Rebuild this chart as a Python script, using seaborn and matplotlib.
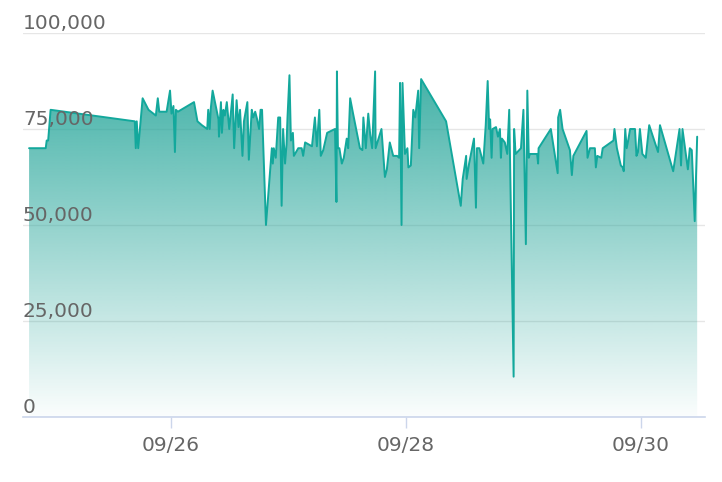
import numpy as np
import pandas as pd
import matplotlib
matplotlib.use("Agg")
import matplotlib.pyplot as plt
import matplotlib.dates as mdates
from matplotlib.patches import PathPatch
from matplotlib.colors import to_rgb
import seaborn as sns

# hours counted from 2023-09-24 00:00
hours = [19.0, 22.4, 22.6, 22.9, 23.4, 40.6, 40.8, 41.0, 41.3, 42.2,
         43.4, 43.9, 44.9, 45.3, 45.6, 47.1, 47.8, 48.1, 48.5, 48.8,
         49.0, 49.4, 52.7, 53.4, 54.3, 55.4, 55.6, 55.9, 56.1, 56.5,
         57.7, 57.8, 58.2, 58.4, 58.7, 59.0, 59.4, 59.9, 60.6, 60.9,
         61.4, 61.8, 62.1, 62.6, 62.9, 63.6, 63.9, 64.5, 64.8, 65.2,
         65.6, 66.0, 66.3, 66.6, 67.4, 68.6, 68.8, 69.0, 69.4, 69.9,
         70.3, 70.6, 70.9, 71.3, 71.6, 71.8, 72.2, 72.5, 72.9, 73.1,
         74.0, 74.7, 75.0, 75.4, 76.8, 77.4, 77.8, 78.3, 78.6, 79.1,
         79.9, 81.5, 81.8, 81.9, 82.1, 82.4, 82.9, 83.3, 83.9, 84.2,
         84.6, 85.2, 86.6, 87.1, 87.3, 87.8, 88.3, 88.7, 89.1, 89.7,
         89.8, 90.4, 91.0, 91.7, 92.1, 92.7, 93.4, 94.2, 94.6, 94.8,
         95.1, 95.3, 95.8, 96.3, 96.5, 97.0, 97.5, 97.9, 98.5, 98.7,
         99.1, 104.2, 107.2, 107.6, 108.3, 108.4, 108.9, 109.9, 110.3, 110.5,
         111.0, 111.8, 112.3, 112.7, 113.0, 113.2, 113.5, 113.7, 114.4, 114.8,
         115.2, 115.4, 115.6, 116.2, 116.7, 117.1, 118.0, 118.1, 118.4, 119.5,
         120.0, 120.5, 120.8, 121.1, 121.3, 122.8, 123.0, 123.1, 125.6, 127.0,
         127.1, 127.5, 128.0, 129.5, 129.9, 130.2, 132.9, 133.1, 133.6, 134.6,
         134.8, 135.1, 135.9, 136.2, 138.4, 138.6, 139.1, 139.9, 140.3, 140.5,
         140.8, 141.1, 141.4, 141.8, 142.8, 143.1, 143.4, 143.8, 144.3, 145.0,
         145.7, 147.5, 147.9, 150.6, 151.9, 152.2, 152.5, 153.6, 154.0, 154.4,
         155.0, 155.5]

values = [70000, 70000, 72000, 72000, 80000, 77000, 70000, 77000, 70000, 83000,
          80000, 79500, 78500, 83000, 79500, 79500, 85000, 79000, 81000, 69000,
          80000, 79500, 82000, 77000, 76000, 75000, 80000, 75000, 80000, 85000,
          77500, 73000, 82000, 74000, 80000, 78500, 82000, 75000, 84000, 70000,
          82500, 75500, 80000, 68000, 77000, 82000, 67000, 80000, 78000, 79500,
          77500, 75000, 80000, 80000, 50000, 70000, 66000, 70000, 67500, 78000,
          78000, 55000, 75000, 66000, 71000, 78000, 89000, 72000, 74000, 68000,
          70000, 70000, 68000, 71500, 70500, 78000, 70500, 80000, 68000, 69500,
          74000, 75000, 56000, 90000, 70000, 70000, 66000, 67500, 72500, 70000,
          83000, 79000, 70000, 69500, 78000, 70000, 79000, 73500, 70000, 90000,
          70000, 72500, 75000, 62500, 64500, 71500, 68000, 68000, 67500, 87000,
          50000, 87000, 68500, 70000, 65000, 65500, 80000, 78000, 85000, 70000,
          88000, 77000, 55000, 62000, 68000, 62000, 66000, 72500, 54500, 70000,
          70000, 66000, 76000, 87500, 75000, 77500, 67500, 75000, 75500, 73000,
          75000, 67500, 72500, 71500, 68500, 80000, 10500, 75000, 68500, 70000,
          80000, 45000, 85000, 67500, 68500, 68500, 66000, 70000, 75000, 63500,
          78000, 80000, 75000, 69500, 63000, 68000, 74500, 67500, 70000, 70000,
          65000, 68000, 67500, 70000, 72000, 75000, 70000, 65500, 65000, 64000,
          75000, 70000, 72000, 75000, 75000, 68000, 69000, 75000, 68500, 67500,
          76000, 69000, 76000, 64000, 75000, 65500, 75000, 64500, 70000, 69500,
          51000, 73000]

y_ticks = [0, 25000, 50000, 75000, 100000]
x_tick_days = [26, 28, 30]

start = pd.Timestamp("2023-09-24")
df = pd.DataFrame({"time": start + pd.to_timedelta(hours, unit="h"), "value": values})

line_color = "#13a89c"
fill_color = "#26a69a"
text_color = "#666666"

sns.set_style("white")
plt.rcParams["font.family"] = ["DejaVu Sans"]

fig = plt.figure(figsize=(7.22, 4.82), dpi=100)
ax = fig.add_axes([23 / 722, 65 / 482, 682 / 722, 384 / 482])

sns.lineplot(data=df, x="time", y="value", color=line_color, lw=1.4, ax=ax, zorder=3)

# gradient fill under the line
poly = ax.fill_between(df["time"], df["value"], 0, facecolor="none", edgecolor="none")
clip = PathPatch(poly.get_paths()[0], transform=ax.transData, facecolor="none", edgecolor="none")
ax.add_patch(clip)
xn = mdates.date2num(df["time"])
grad = np.zeros((256, 1, 4))
grad[..., :3] = to_rgb(fill_color)
grad[:, 0, 3] = np.linspace(0.02, 0.97, 256)
im = ax.imshow(grad, extent=[xn.min(), xn.max(), 0, 100000], origin="lower",
               aspect="auto", zorder=2, interpolation="bilinear")
im.set_clip_path(clip)

ax.set_xlim(start + pd.Timedelta(hours=17.76), start + pd.Timedelta(hours=157.1))
ax.set_ylim(0, 100000)

ax.set_yticks(y_ticks)
ax.set_yticklabels([])
ax.tick_params(axis="y", length=0)
ax.yaxis.grid(True, color="#e6e6e6", lw=1)
ax.set_axisbelow(True)

for v in y_ticks:
    ax.annotate(f"{v:,}", xy=(0, v), xycoords=("axes fraction", "data"),
                xytext=(0, 3), textcoords="offset points", ha="left", va="baseline",
                fontsize=14.5, color=text_color)

ax.xaxis.set_major_locator(mdates.DayLocator(bymonthday=x_tick_days))
ax.xaxis.set_major_formatter(mdates.DateFormatter("%m/%d"))
ax.tick_params(axis="x", length=8, width=1, color="#ccd6eb", pad=6,
               labelsize=14.5, labelcolor=text_color, bottom=True)

for s in ["top", "right", "left"]:
    ax.spines[s].set_visible(False)
ax.spines["bottom"].set_color("#ccd6eb")
ax.spines["bottom"].set_linewidth(1.2)
ax.spines["bottom"].set_zorder(4)

ax.set_xlabel("")
ax.set_ylabel("")

fig.savefig("out.png", dpi=100)
